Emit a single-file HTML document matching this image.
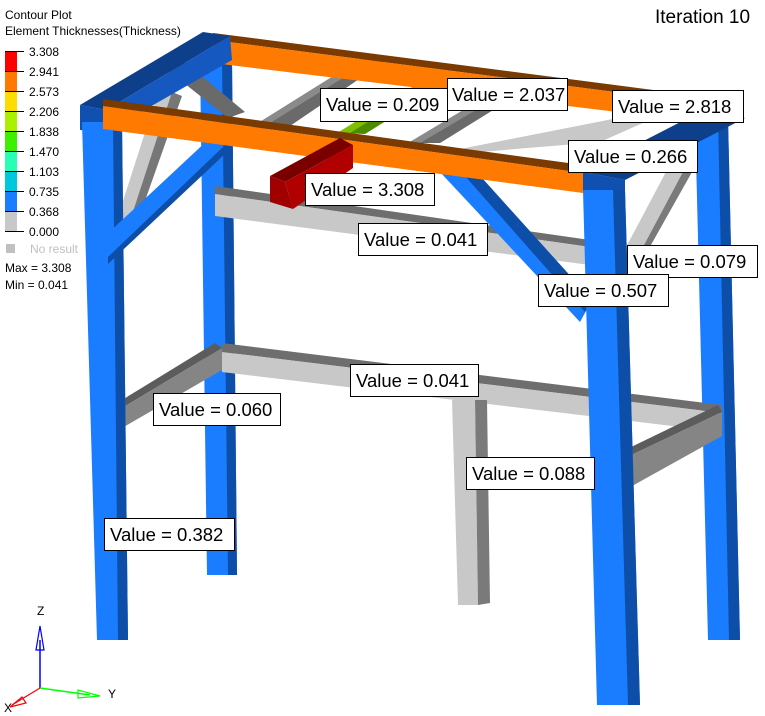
<!DOCTYPE html>
<html><head><meta charset="utf-8"><style>
html,body{margin:0;padding:0;background:#fff;}
svg{display:block;}
text{font-family:"Liberation Sans",sans-serif;}
</style></head><body>
<svg width="765" height="716" viewBox="0 0 765 716" xmlns="http://www.w3.org/2000/svg">
<rect width="765" height="716" fill="#fff"/>
<!-- back-right leg -->
<polygon points="695,118 728,118 740,640 708,640" fill="#1a7cff"/>
<polygon points="718,118 728,118 740,640 729,640" fill="#0d4fa8"/>
<!-- back-left leg -->
<polygon points="200,60 232,60 237,575 207,575" fill="#1a7cff"/>
<polygon points="222,60 232,60 237,575 228,575" fill="#0d4fa8"/>
<!-- lower back beam -->
<polygon points="222,343 722,405 722,413 222,352" fill="#6e6e6e"/>
<polygon points="222,352 722,413 722,432 222,372" fill="#c8c8c8"/>
<!-- center post -->
<polygon points="452,400 475,400 478,605 458,605" fill="#c8c8c8"/>
<polygon points="475,400 487,400 490,603 478,605" fill="#7a7a7a"/>
<!-- mid beam -->
<polygon points="215,186 590,240 590,247 215,194" fill="#6e6e6e"/>
<polygon points="215,194 590,247 590,265 215,216" fill="#c8c8c8"/>
<!-- left lower side beam -->
<polygon points="122,400 215,343 222,348 122,408" fill="#5c5c5c"/>
<polygon points="122,408 222,348 222,370 122,428" fill="#858585"/>
<!-- right lower side beam -->
<polygon points="625,450 718,405 722,412 625,458" fill="#5c5c5c"/>
<polygon points="625,458 722,412 722,436 625,490" fill="#858585"/>
<!-- top cross beams -->
<polygon points="250,128 362,58 384,62 284,130" fill="#8a8a8a"/>
<polygon points="262,128 372,60 384,62 284,130" fill="#6a6a6a"/>
<polygon points="337,133 440,70 462,73 365,134" fill="#7cc000"/>
<polygon points="350,133 450,71 462,73 365,134" fill="#4e8a00"/>
<polygon points="408,143 500,88 522,92 440,143" fill="#8a8a8a"/>
<polygon points="420,143 510,90 522,92 440,143" fill="#6a6a6a"/>
<polygon points="455,150 628,116 645,122 600,142 480,152" fill="#c8c8c8"/>
<!-- left side braces -->
<polygon points="165,68 185,62 245,112 228,118" fill="#6a6a6a"/>
<polygon points="113,232 158,92 172,92 125,236" fill="#c8c8c8"/>
<polygon points="125,236 172,92 182,96 134,232" fill="#777"/>
<!-- right side brace -->
<polygon points="598,300 668,168 684,170 612,305" fill="#c8c8c8"/>
<polygon points="612,305 684,170 692,172 620,300" fill="#7a7a7a"/>
<!-- back orange beam -->
<polygon points="213,33 700,96 700,103 213,40" fill="#7a3a00"/>
<polygon points="213,40 700,103 700,122 213,63" fill="#ff7a00"/>
<!-- left top blue beam -->
<polygon points="80,105 203,32 230,36 106,110" fill="#0d3f8a"/>
<polygon points="80,105 106,110 106,132 80,130" fill="#1050b0"/>
<polygon points="106,110 230,36 232,60 106,132" fill="#1558c0"/>
<!-- right top blue beam -->
<polygon points="583,172 700,112 745,118 625,180" fill="#0d3f8a"/>
<polygon points="583,172 625,180 625,192 583,192" fill="#1050b0"/>
<!-- front-left leg -->
<polygon points="82,122 122,122 128,640 97,640" fill="#1a7cff"/>
<polygon points="113,122 122,122 128,640 118,640" fill="#0d4fa8"/>
<!-- blue brace left -->
<polygon points="105,236 210,138 224,146 108,264" fill="#1a7cff"/>
<polygon points="108,257 224,146 226,153 108,264" fill="#0d4fa8"/>
<!-- blue brace right -->
<polygon points="440,172 482,178 592,300 580,322" fill="#1a7cff"/>
<polygon points="465,176 482,178 592,300 585,312" fill="#0d4fa8"/>
<!-- front-right leg -->
<polygon points="583,190 625,190 640,705 597,705" fill="#1a7cff"/>
<polygon points="613,190 625,190 640,705 628,705" fill="#0d4fa8"/>
<!-- front orange beam -->
<polygon points="103,99 583,165 583,173 103,106" fill="#7a3a00"/>
<polygon points="103,106 583,173 583,193 103,129" fill="#ff7a00"/>
<!-- red beam -->
<polygon points="270,176 340,138 353,145 285,182" fill="#7a0000"/>
<polygon points="270,176 285,182 293,209 270,202" fill="#a00000"/>
<polygon points="285,182 353,145 353,168 293,209" fill="#b00000"/>

<!-- labels -->
<g font-size="18.5" fill="#000">
<g stroke="#000" stroke-width="1" fill="#fff">
<rect x="320.5" y="88.5" width="127" height="33"/>
<rect x="447.5" y="78.5" width="120" height="32"/>
<rect x="612.5" y="90.5" width="131" height="32"/>
<rect x="568.5" y="140.5" width="129" height="32"/>
<rect x="305.5" y="173.5" width="129" height="32"/>
<rect x="358.5" y="223.5" width="129" height="32"/>
<rect x="627.5" y="245.5" width="130" height="32"/>
<rect x="538.5" y="274.5" width="130" height="32"/>
<rect x="350.5" y="364.5" width="128" height="32"/>
<rect x="153.5" y="393.5" width="127" height="32"/>
<rect x="466.5" y="457.5" width="128" height="32"/>
<rect x="104.5" y="518.5" width="130" height="32"/>
</g>
<text x="326" y="111">Value = 0.209</text>
<text x="452" y="101">Value = 2.037</text>
<text x="618" y="113">Value = 2.818</text>
<text x="574" y="163">Value = 0.266</text>
<text x="311" y="196">Value = 3.308</text>
<text x="364" y="246">Value = 0.041</text>
<text x="633" y="268">Value = 0.079</text>
<text x="544" y="297">Value = 0.507</text>
<text x="356" y="387">Value = 0.041</text>
<text x="159" y="416">Value = 0.060</text>
<text x="472" y="480">Value = 0.088</text>
<text x="110" y="541">Value = 0.382</text>
</g>
<text x="655" y="23" font-size="19">Iteration 10</text>

<!-- legend -->
<text x="5" y="19" font-size="12">Contour Plot</text>
<text x="5" y="35" font-size="12">Element Thicknesses(Thickness)</text>
<rect x="5" y="51" width="12" height="20" fill="#ff0000"/>
<rect x="5" y="71" width="12" height="20" fill="#ff7800"/>
<rect x="5" y="91" width="12" height="20" fill="#ffdc00"/>
<rect x="5" y="111" width="12" height="20" fill="#aaf000"/>
<rect x="5" y="131" width="12" height="20" fill="#3cf000"/>
<rect x="5" y="151" width="12" height="20" fill="#28ffb4"/>
<rect x="5" y="171" width="12" height="20" fill="#00c8dc"/>
<rect x="5" y="191" width="12" height="20" fill="#1a7cff"/>
<rect x="5" y="211" width="12" height="20" fill="#c8c8c8"/>
<g stroke="#000" stroke-width="1">
<line x1="5" y1="51.5" x2="24" y2="51.5"/><line x1="5" y1="71.5" x2="24" y2="71.5"/>
<line x1="5" y1="91.5" x2="24" y2="91.5"/><line x1="5" y1="111.5" x2="24" y2="111.5"/>
<line x1="5" y1="131.5" x2="24" y2="131.5"/><line x1="5" y1="151.5" x2="24" y2="151.5"/>
<line x1="5" y1="171.5" x2="24" y2="171.5"/><line x1="5" y1="191.5" x2="24" y2="191.5"/>
<line x1="5" y1="211.5" x2="24" y2="211.5"/><line x1="5" y1="231.5" x2="24" y2="231.5"/>
</g>
<g font-size="12">
<text x="29" y="56">3.308</text><text x="29" y="76">2.941</text><text x="29" y="96">2.573</text>
<text x="29" y="116">2.206</text><text x="29" y="136">1.838</text><text x="29" y="156">1.470</text>
<text x="29" y="176">1.103</text><text x="29" y="196">0.735</text><text x="29" y="216">0.368</text>
<text x="29" y="236">0.000</text>
</g>
<rect x="6" y="244" width="9" height="9" fill="#c0c0c0"/>
<text x="30" y="253" font-size="12" fill="#c0c0c0">No result</text>
<text x="5" y="272" font-size="12">Max = 3.308</text>
<text x="5" y="289" font-size="12">Min = 0.041</text>

<!-- axis triad -->
<line x1="40" y1="688" x2="40" y2="640" stroke="#0000ff" stroke-width="1.5"/>
<polygon points="40,626 36,650 44,650" fill="none" stroke="#0000ff" stroke-width="1.2"/>
<line x1="40" y1="688" x2="90" y2="695" stroke="#00ff00" stroke-width="1.5"/>
<polygon points="100,696 78,690 78,698" fill="none" stroke="#00ff00" stroke-width="1.2"/>
<line x1="40" y1="688" x2="12" y2="705" stroke="#ff0000" stroke-width="1.2"/>
<polygon points="10,707 22,697 26,703" fill="none" stroke="#ff0000" stroke-width="1.2"/>
<text x="37" y="615" font-size="12" font-family="Liberation Serif,serif">Z</text>
<text x="108" y="698" font-size="12" font-family="Liberation Serif,serif">Y</text>
<text x="4" y="712" font-size="12" font-family="Liberation Serif,serif">X</text>
</svg>
</body></html>
